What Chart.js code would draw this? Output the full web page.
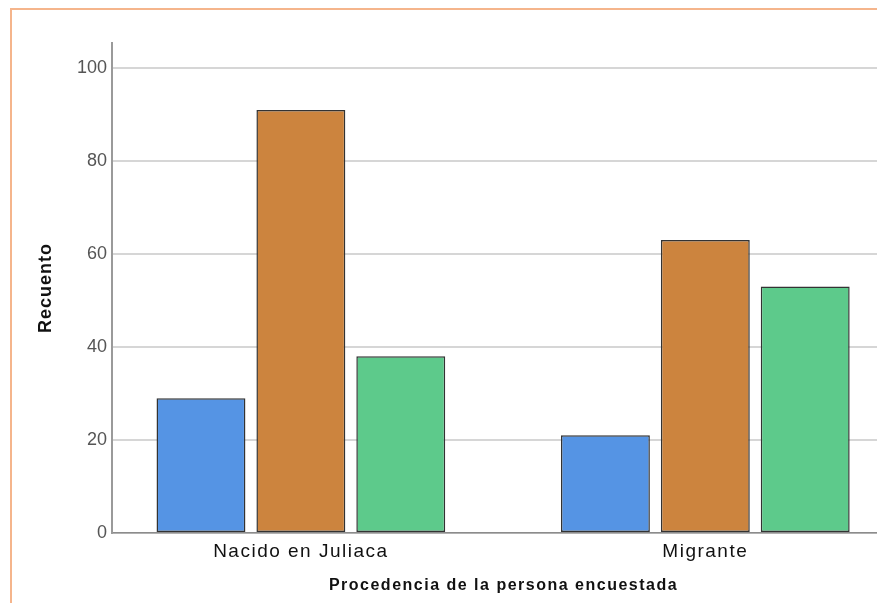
<!DOCTYPE html>
<html>
<head>
<meta charset="utf-8">
<script src="https://cdn.jsdelivr.net/npm/chart.js@4"></script>
<style>
  html, body { margin: 0; padding: 0; background: #fff; overflow: hidden; }
  #wrap { position: relative; width: 877px; height: 603px; overflow: hidden; }
  #frame { position: absolute; left: 10px; top: 8px; right: 0; bottom: 0;
           border-top: 2px solid #f5b58c; border-left: 2px solid #f5b58c; }
  canvas { position: absolute; left: 0; top: 0; }
</style>
</head>
<body>
<div id="wrap">
  <div id="frame"></div>
  <canvas id="myChart" width="895" height="603"></canvas>
</div>
<script>
// data
const categories = ['Nacido en Juliaca', 'Migrante'];
const serieA = [29, 21];
const serieB = [91, 63];
const serieC = [38, 53];
const yTicks = [0, 20, 40, 60, 80, 100];

const colors = ['#5594e4', '#cc843e', '#5dca8b'];

const toPoints = arr => arr.map((v, i) => ({ x: i, y: v }));

const data = {
  datasets: [serieA, serieB, serieC].map((s, i) => ({
    data: toPoints(s),
    backgroundColor: colors[i],
    borderColor: '#333',
    borderWidth: 1.5,
    borderSkipped: false,
    categoryPercentage: 0.741,
    barPercentage: 0.89
  }))
};

// wraps a scale draw function so its text gets some letter spacing
function spaced(scale, name, px) {
  const orig = scale[name].bind(scale);
  scale[name] = function (...args) {
    const ctx = scale.ctx;
    const prev = ctx.letterSpacing;
    ctx.letterSpacing = px + 'px';
    orig(...args);
    ctx.letterSpacing = prev || '0px';
  };
}

const config = {
  type: 'bar',
  data,
  options: {
    responsive: false,
    animation: false,
    layout: { padding: { left: 0, right: 0, top: 43, bottom: 0 } },
    plugins: { legend: { display: false }, tooltip: { enabled: false } },
    scales: {
      x: {
        type: 'linear',
        offset: false,
        min: -0.467,
        max: 1.469,
        bounds: 'data',
        afterBuildTicks: scale => { scale.ticks = categories.map((c, i) => ({ value: i })); },
        afterFit: scale => { scale.height = 70; },
        grid: { display: false, drawTicks: false, offset: false },
        border: { display: true, color: '#8c8c8c', width: 1.5 },
        ticks: {
          autoSkip: false,
          maxRotation: 0,
          padding: 7,
          color: '#111',
          font: { family: 'Liberation Sans', size: 19 },
          callback: v => categories[v] ?? ''
        },
        title: {
          display: true,
          text: 'Procedencia de la persona encuestada',
          color: '#111',
          font: { family: 'Liberation Sans', size: 16, weight: 'bold' },
          padding: { top: 0, bottom: 8 }
        }
      },
      y: {
        min: 0,
        max: 105.4,
        afterBuildTicks: scale => { scale.ticks = yTicks.map(v => ({ value: v })); },
        afterFit: scale => { scale.width = 112; },
        grid: { color: '#d6d6d6', lineWidth: 2, drawTicks: false },
        border: { display: true, color: '#9a9a9a', width: 2 },
        ticks: {
          padding: 5,
          color: '#555',
          font: { family: 'Liberation Sans', size: 18 }
        },
        title: {
          display: true,
          text: 'Recuento',
          color: '#111',
          font: { family: 'Liberation Sans', size: 18, weight: 'bold' },
          padding: { top: 35 }
        }
      }
    }
  }
};

const myChart = new Chart(document.getElementById('myChart'), config);
spaced(myChart.scales.x, 'drawLabels', 1.5);
spaced(myChart.scales.x, 'drawTitle', 1.5);
spaced(myChart.scales.y, 'drawTitle', 1);
myChart.update();
</script>
</body>
</html>
